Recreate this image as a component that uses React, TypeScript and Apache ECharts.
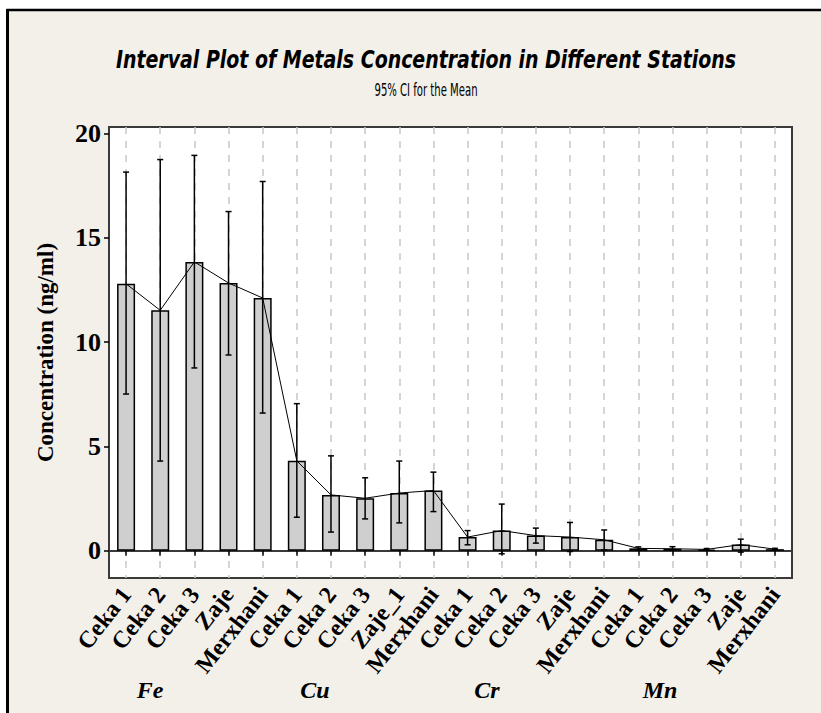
import React, { useEffect, useRef } from "react";
import * as echarts from "echarts";

const metals = ["Fe", "Cu", "Cr", "Mn"];
const stationsFe = ["Ceka 1", "Ceka 2", "Ceka 3", "Zaje", "Merxhani"];
const stationsCu = ["Ceka 1", "Ceka 2", "Ceka 3", "Zaje_1", "Merxhani"];
const stationsCr = ["Ceka 1", "Ceka 2", "Ceka 3", "Zaje", "Merxhani"];
const stationsMn = ["Ceka 1", "Ceka 2", "Ceka 3", "Zaje", "Merxhani"];

const meanFe = [12.79, 11.52, 13.84, 12.83, 12.11];
const meanCu = [4.31, 2.68, 2.52, 2.77, 2.89];
const meanCr = [0.66, 0.97, 0.73, 0.66, 0.53];
const meanMn = [0.12, 0.1, 0.07, 0.3, 0.08];

const lowerFe = [7.51, 4.3, 8.76, 9.38, 6.6];
const lowerCu = [1.61, 0.9, 1.53, 1.34, 1.88];
const lowerCr = [0.29, -0.14, 0.37, -0.03, 0.05];
const lowerMn = [0.05, 0.05, 0.03, -0.06, 0.05];

const upperFe = [18.14, 18.74, 18.94, 16.25, 17.69];
const upperCu = [7.05, 4.55, 3.5, 4.3, 3.77];
const upperCr = [0.97, 2.24, 1.09, 1.36, 1.0];
const upperMn = [0.19, 0.2, 0.11, 0.56, 0.12];

const yTicks = [0, 5, 10, 15, 20];

const titleText = "Interval Plot of Metals Concentration in Different Stations";
const subtitleText = "95% CI for the Mean";
const yAxisTitle = "Concentration (ng/ml)";

export default function App() {
  const ref = useRef<HTMLDivElement>(null);

  useEffect(() => {
    if (!ref.current) return;
    document.body.style.margin = "0";
    document.body.style.overflow = "hidden";
    const chart = echarts.init(ref.current, undefined, { renderer: "svg" });

    const stationGroups = [stationsFe, stationsCu, stationsCr, stationsMn];
    const categories: string[] = [];
    stationGroups.forEach((g, mi) => g.forEach((s) => categories.push(metals[mi] + "|" + s)));
    const means = [...meanFe, ...meanCu, ...meanCr, ...meanMn];
    const lowers = [...lowerFe, ...lowerCu, ...lowerCr, ...lowerMn];
    const uppers = [...upperFe, ...upperCu, ...upperCr, ...upperMn];
    const errData = categories.map((_, i) => [i, lowers[i], uppers[i]]);

    const serif = '"Liberation Serif", "Times New Roman", serif';
    const sans = '"DejaVu Sans", sans-serif';

    const groupPos = [150, 315, 487, 660];

    chart.setOption({
      animation: false,
      backgroundColor: "#f3efe9",
      graphic: {
        elements: [
          {
            type: "rect",
            z: -100,
            silent: true,
            shape: { x: 0, y: 0, width: 821, height: 9 },
            style: { fill: "#ffffff" },
          },
          {
            type: "rect",
            z: -100,
            silent: true,
            shape: { x: 0, y: 0, width: 6, height: 713 },
            style: { fill: "#ffffff" },
          },
          {
            type: "line",
            z: -90,
            silent: true,
            shape: { x1: 6.5, y1: 10, x2: 821, y2: 10 },
            style: { stroke: "#000", lineWidth: 2.5 },
          },
          {
            type: "line",
            z: -90,
            silent: true,
            shape: { x1: 7.5, y1: 9, x2: 7.5, y2: 713 },
            style: { stroke: "#000", lineWidth: 3 },
          },
          {
            type: "text",
            x: 426,
            y: 60,
            scaleX: 0.79,
            style: {
              text: titleText,
              fontFamily: sans,
              fontStyle: "italic",
              fontWeight: "bold",
              fontSize: 24,
              fill: "#000",
              textAlign: "center",
              textVerticalAlign: "middle",
            },
          },
          {
            type: "text",
            x: 426,
            y: 89,
            scaleX: 0.56,
            style: {
              text: subtitleText,
              fontFamily: sans,
              fontSize: 18,
              fill: "#000",
              textAlign: "center",
              textVerticalAlign: "middle",
            },
          },
          ...metals.map((m, i) => ({
            type: "text",
            x: groupPos[i],
            y: 690,
            style: {
              text: m,
              fontFamily: serif,
              fontStyle: "italic",
              fontWeight: "bold",
              fontSize: 24,
              fill: "#000",
              textAlign: "center",
              textVerticalAlign: "middle",
            },
          })),
        ],
      },
      grid: {
        left: 109,
        right: 29,
        top: 127,
        bottom: 135,
        show: true,
        backgroundColor: "#ffffff",
        borderColor: "#3a3a3a",
        borderWidth: 2,
      },
      xAxis: {
        type: "category",
        data: categories,
        boundaryGap: true,
        axisLine: { show: true, lineStyle: { color: "#3a3a3a", width: 2 } },
        axisTick: { show: true, alignWithLabel: true, length: 5, inside: false, lineStyle: { color: "#000", width: 1.5 } },
        splitLine: {
          show: true,
          alignWithLabel: true,
          lineStyle: { color: "#c8c8c8", width: 1.5, type: [7, 7] },
        },
        axisLabel: {
          interval: 0,
          rotate: 52,
          margin: 12,
          formatter: (v: string) => v.split("|")[1],
          fontFamily: serif,
          fontWeight: "bold",
          fontSize: 24,
          color: "#000",
        },
      },
      yAxis: {
        type: "value",
        min: -1.3,
        max: 20.3,
        name: yAxisTitle,
        nameLocation: "middle",
        nameGap: 52,
        nameRotate: 90,
        nameTextStyle: { fontFamily: serif, fontWeight: "bold", fontSize: 23, color: "#000" },
        axisLine: { show: true, lineStyle: { color: "#3a3a3a", width: 2 } },
        axisTick: { show: true, length: 5, customValues: yTicks, lineStyle: { color: "#000", width: 1.5 } },
        axisLabel: {
          customValues: yTicks,
          margin: 8,
          fontFamily: serif,
          fontWeight: "bold",
          fontSize: 26,
          color: "#000",
        },
        splitLine: { show: false },
      },
      series: [
        {
          type: "bar",
          data: means,
          barWidth: 18,
          itemStyle: { color: "#cfcfcf", borderColor: "#000", borderWidth: 1.5 },
          z: 2,
        },
        {
          type: "line",
          data: means,
          symbol: "none",
          lineStyle: { color: "#000", width: 1 },
          z: 3,
        },
        {
          type: "custom",
          data: errData,
          encode: { x: 0, y: [1, 2] },
          z: 4,
          renderItem: (params: any, api: any) => {
            const x = api.value(0);
            const pLo = api.coord([x, api.value(1)]);
            const pHi = api.coord([x, api.value(2)]);
            const w = 3;
            const style = { stroke: "#000", lineWidth: 1.5 };
            return {
              type: "group",
              children: [
                { type: "line", shape: { x1: pLo[0], y1: pLo[1], x2: pHi[0], y2: pHi[1] }, style },
                { type: "line", shape: { x1: pHi[0] - w, y1: pHi[1], x2: pHi[0] + w, y2: pHi[1] }, style },
                { type: "line", shape: { x1: pLo[0] - w, y1: pLo[1], x2: pLo[0] + w, y2: pLo[1] }, style },
              ],
            };
          },
        },
      ],
    });

    return () => chart.dispose();
  }, []);

  return (
    <div
      ref={ref}
      style={{ position: "absolute", left: 0, top: 0, width: 821, height: 713 }}
    />
  );
}
